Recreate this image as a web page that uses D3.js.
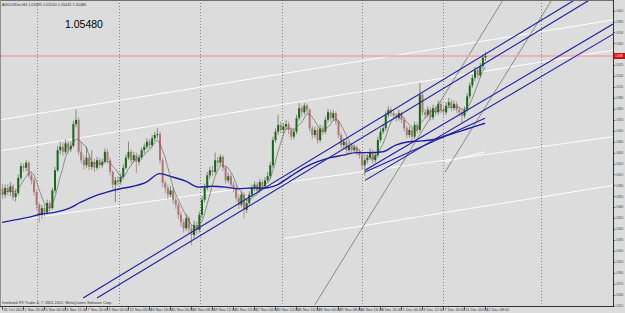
<!DOCTYPE html>
<html>
<head>
<meta charset="utf-8">
<script src="https://cdn.jsdelivr.net/npm/d3@7"></script>
<style>
  body { margin: 0; background: #dcdcdc; }
  svg { display: block; font-family: "Liberation Sans", Arial, sans-serif; }
</style>
</head>
<body>
<svg id="chart" width="625" height="313"></svg>
<script>
// AUDUSDm H4, 4-hour candles from 31 Oct 2012 12:00 (bar 0) to 12 Dec 2012 08:00 (bar 184)
const open = [1.0390,1.0383,1.0391,1.0386,1.0393,1.0380,1.0385,1.0403,1.0417,1.0415,
1.0421,1.0406,1.0400,1.0386,1.0371,1.0359,1.0367,1.0362,1.0373,1.0367,
1.0388,1.0412,1.0436,1.0440,1.0434,1.0444,1.0437,1.0441,1.0467,1.0472,
1.0434,1.0424,1.0418,1.0427,1.0416,1.0422,1.0415,1.0424,1.0418,1.0422,
1.0434,1.0424,1.0410,1.0395,1.0400,1.0398,1.0404,1.0415,1.0427,1.0434,
1.0424,1.0430,1.0422,1.0427,1.0436,1.0440,1.0446,1.0442,1.0450,1.0454,
1.0455,1.0424,1.0397,1.0391,1.0383,1.0388,1.0377,1.0371,1.0359,1.0350,
1.0343,1.0355,1.0343,1.0335,1.0347,1.0341,1.0359,1.0377,1.0391,1.0406,
1.0412,1.0410,1.0424,1.0421,1.0428,1.0415,1.0400,1.0405,1.0395,1.0391,
1.0379,1.0371,1.0383,1.0365,1.0373,1.0383,1.0391,1.0395,1.0388,1.0398,
1.0393,1.0400,1.0405,1.0418,1.0448,1.0458,1.0466,1.0460,1.0464,1.0467,
1.0460,1.0452,1.0458,1.0474,1.0486,1.0481,1.0489,1.0484,1.0462,1.0454,
1.0460,1.0448,1.0462,1.0458,1.0472,1.0481,1.0474,1.0480,1.0470,1.0454,
1.0442,1.0446,1.0436,1.0441,1.0436,1.0439,1.0434,1.0430,1.0418,1.0424,
1.0427,1.0434,1.0424,1.0430,1.0448,1.0458,1.0462,1.0478,1.0484,1.0480,
1.0477,1.0474,1.0480,1.0472,1.0462,1.0454,1.0460,1.0452,1.0466,1.0460,
1.0502,1.0481,1.0478,1.0484,1.0475,1.0486,1.0481,1.0491,1.0484,1.0481,
1.0489,1.0493,1.0486,1.0491,1.0484,1.0481,1.0477,1.0484,1.0500,1.0513,
1.0522,1.0531,1.0525,1.0536,1.0546];

const high = [1.0396,1.0395,1.0396,1.0398,1.0396,1.0390,1.0407,1.0421,1.0420,1.0424,
1.0423,1.0410,1.0403,1.0389,1.0374,1.0371,1.0372,1.0377,1.0376,1.0391,
1.0416,1.0441,1.0446,1.0445,1.0449,1.0447,1.0446,1.0471,1.0484,1.0475,
1.0446,1.0430,1.0440,1.0431,1.0436,1.0426,1.0428,1.0427,1.0426,1.0438,
1.0437,1.0427,1.0412,1.0404,1.0405,1.0408,1.0419,1.0431,1.0446,1.0437,
1.0434,1.0433,1.0431,1.0439,1.0444,1.0450,1.0449,1.0454,1.0458,1.0462,
1.0458,1.0427,1.0400,1.0395,1.0393,1.0391,1.0381,1.0374,1.0363,1.0354,
1.0360,1.0358,1.0347,1.0352,1.0351,1.0363,1.0381,1.0396,1.0410,1.0416,
1.0417,1.0433,1.0428,1.0431,1.0430,1.0418,1.0409,1.0408,1.0399,1.0394,
1.0383,1.0387,1.0386,1.0378,1.0387,1.0395,1.0399,1.0398,1.0402,1.0401,
1.0404,1.0410,1.0422,1.0452,1.0462,1.0478,1.0470,1.0468,1.0472,1.0470,
1.0463,1.0462,1.0478,1.0492,1.0489,1.0492,1.0491,1.0486,1.0465,1.0464,
1.0463,1.0466,1.0465,1.0476,1.0485,1.0484,1.0484,1.0482,1.0472,1.0457,
1.0450,1.0449,1.0445,1.0444,1.0443,1.0442,1.0437,1.0433,1.0428,1.0431,
1.0438,1.0437,1.0434,1.0452,1.0462,1.0467,1.0482,1.0488,1.0487,1.0483,
1.0480,1.0484,1.0482,1.0475,1.0465,1.0464,1.0463,1.0470,1.0469,1.0516,
1.0505,1.0485,1.0488,1.0487,1.0490,1.0489,1.0495,1.0494,1.0488,1.0493,
1.0498,1.0496,1.0495,1.0494,1.0487,1.0485,1.0488,1.0504,1.0517,1.0526,
1.0535,1.0534,1.0540,1.0550,1.0553];

const low = [1.0378,1.0379,1.0382,1.0381,1.0376,1.0375,1.0382,1.0400,1.0410,1.0411,
1.0403,1.0395,1.0382,1.0365,1.0350,1.0355,1.0357,1.0359,1.0363,1.0365,
1.0385,1.0410,1.0431,1.0429,1.0431,1.0432,1.0434,1.0439,1.0463,1.0430,
1.0420,1.0413,1.0415,1.0412,1.0413,1.0410,1.0412,1.0414,1.0415,1.0420,
1.0420,1.0406,1.0390,1.0374,1.0394,1.0395,1.0401,1.0413,1.0424,1.0420,
1.0421,1.0409,1.0418,1.0424,1.0432,1.0437,1.0438,1.0439,1.0447,1.0450,
1.0420,1.0392,1.0385,1.0378,1.0380,1.0372,1.0366,1.0354,1.0345,1.0338,
1.0340,1.0337,1.0323,1.0331,1.0336,1.0338,1.0355,1.0374,1.0388,1.0402,
1.0405,1.0407,1.0416,1.0418,1.0411,1.0396,1.0397,1.0391,1.0386,1.0375,
1.0366,1.0368,1.0355,1.0361,1.0370,1.0380,1.0387,1.0384,1.0385,1.0389,
1.0390,1.0397,1.0402,1.0415,1.0445,1.0454,1.0456,1.0456,1.0460,1.0455,
1.0448,1.0449,1.0455,1.0471,1.0476,1.0478,1.0479,1.0458,1.0449,1.0451,
1.0444,1.0445,1.0454,1.0455,1.0469,1.0470,1.0471,1.0466,1.0450,1.0438,
1.0437,1.0432,1.0432,1.0432,1.0433,1.0430,1.0426,1.0413,1.0406,1.0420,
1.0424,1.0420,1.0421,1.0427,1.0445,1.0455,1.0459,1.0475,1.0476,1.0473,
1.0470,1.0471,1.0468,1.0458,1.0450,1.0451,1.0447,1.0449,1.0456,1.0457,
1.0477,1.0474,1.0475,1.0471,1.0472,1.0477,1.0478,1.0480,1.0477,1.0478,
1.0486,1.0482,1.0483,1.0480,1.0477,1.0468,1.0474,1.0481,1.0497,1.0510,
1.0518,1.0521,1.0522,1.0533,1.0542];

const close = [1.0383,1.0391,1.0386,1.0393,1.0380,1.0385,1.0403,1.0417,1.0415,1.0421,
1.0406,1.0400,1.0386,1.0371,1.0359,1.0367,1.0362,1.0373,1.0367,1.0388,
1.0412,1.0436,1.0440,1.0434,1.0444,1.0437,1.0441,1.0467,1.0472,1.0434,
1.0424,1.0418,1.0427,1.0416,1.0422,1.0415,1.0424,1.0418,1.0422,1.0434,
1.0424,1.0410,1.0395,1.0400,1.0398,1.0404,1.0415,1.0427,1.0434,1.0424,
1.0430,1.0422,1.0427,1.0436,1.0440,1.0446,1.0442,1.0450,1.0454,1.0455,
1.0424,1.0397,1.0391,1.0383,1.0388,1.0377,1.0371,1.0359,1.0350,1.0343,
1.0355,1.0343,1.0335,1.0347,1.0341,1.0359,1.0377,1.0391,1.0406,1.0412,
1.0410,1.0424,1.0421,1.0428,1.0415,1.0400,1.0405,1.0395,1.0391,1.0379,
1.0371,1.0383,1.0365,1.0373,1.0383,1.0391,1.0395,1.0388,1.0398,1.0393,
1.0400,1.0405,1.0418,1.0448,1.0458,1.0466,1.0460,1.0464,1.0467,1.0460,
1.0452,1.0458,1.0474,1.0486,1.0481,1.0489,1.0484,1.0462,1.0454,1.0460,
1.0448,1.0462,1.0458,1.0472,1.0481,1.0474,1.0480,1.0470,1.0454,1.0442,
1.0446,1.0436,1.0441,1.0436,1.0439,1.0434,1.0430,1.0418,1.0424,1.0427,
1.0434,1.0424,1.0430,1.0448,1.0458,1.0462,1.0478,1.0484,1.0480,1.0477,
1.0474,1.0480,1.0472,1.0462,1.0454,1.0460,1.0452,1.0466,1.0460,1.0502,
1.0481,1.0478,1.0484,1.0475,1.0486,1.0481,1.0491,1.0484,1.0481,1.0489,
1.0493,1.0486,1.0491,1.0484,1.0481,1.0477,1.0484,1.0500,1.0513,1.0522,
1.0531,1.0525,1.0536,1.0546,1.0548];

// slow moving average (blue), every 5 bars
const slowMaBars = [0,5,10,15,20,25,30,35,40,45,50,55,60,65,70,75,80,85,90,95,100,105,110,115,120,125,130,135,140,145,150,155,160,165,170,175,180,184];
const slowMa = [1.0350,1.0353,1.0356,1.0360,1.0362,1.0366,1.0374,1.0381,1.0386,1.0390,1.0393,1.0398,1.0408,1.0404,1.0399,1.0392,
1.0393,1.0392,1.0390,1.0391,1.0391,1.0395,1.0405,1.0415,1.0422,1.0427,1.0430,1.0433,1.0433,1.0434,1.0442,1.0446,1.0447,1.0449,
1.0454,1.0459,1.0464,1.0468];
const fastMaPeriod = 6;

// drawn objects: [bar1, price1, bar2, price2]
const channelLines = [
  [30.9, 1.0260, 218.3, 1.0615],
  [36.2, 1.0260, 224.0, 1.0615],
  [138.3, 1.0412, 232.8, 1.0586],
  [138.3, 1.0400, 232.8, 1.0574],
  [138.3, 1.0410, 184.0, 1.0474]
];
const whiteLines = [
  [-0.8, 1.0472, 232.8, 1.0591],
  [-0.8, 1.0435, 232.8, 1.0555],
  [-0.8, 1.0350, 232.8, 1.0452],
  [107.8, 1.0331, 232.8, 1.0394],
  [168.8, 1.0422, 184.0, 1.0434]
];
const greyLines = [
  [119.2, 1.0252, 190.9, 1.0615],
  [168.8, 1.0410, 209.5, 1.0615]
];
const bidPrice = 1.0548;

const priceTicks = [1.0602,1.0589,1.0576,1.0563,1.0550,1.0537,1.0524,1.0511,1.0498,1.0485,1.0472,1.0459,1.0446,1.0433,
1.0420,1.0407,1.0394,1.0381,1.0368,1.0355,1.0342,1.0329,1.0316,1.0303,1.0290,1.0277,1.0264,1.0251];
const timeLabels = ["31 Oct 2012","1 Nov 20:00","5 Nov 04:00","6 Nov 12:00","7 Nov 20:00","9 Nov 04:00","12 Nov 08:00",
"13 Nov 16:00","15 Nov 00:00","16 Nov 08:00","19 Nov 12:00","20 Nov 20:00","22 Nov 04:00","23 Nov 12:00","26 Nov 16:00",
"28 Nov 00:00","29 Nov 08:00","30 Nov 16:00","3 Dec 20:00","5 Dec 04:00","6 Dec 12:00","7 Dec 20:00","11 Dec 00:00","12 Dec 08:00"];
const timeLabelStep = 8;
const weekGridBars = [13.3, 44.6, 75.4, 106.7, 137.1, 168, 205.3];

// Set the dimensions
const plotRight = 613, plotBottom = 306;
const svg = d3.select('#chart');

const x = d3.scaleLinear().domain([0, 184]).range([2, 485]);
const y = d3.scaleLinear().domain([1.0251, 1.0548]).range([305.6, 56]);

svg.append('rect').attr('width', 625).attr('height', 313).attr('fill', '#dcdcdc');

svg.append('clipPath').attr('id', 'plot')
  .append('rect').attr('x', 0).attr('y', 0).attr('width', plotRight).attr('height', plotBottom);

const g = svg.append('g').attr('clip-path', 'url(#plot)');

// period separators
g.selectAll('.sep').data(weekGridBars).enter().append('line')
  .attr('x1', d => Math.round(x(d)) + 0.5).attr('x2', d => Math.round(x(d)) + 0.5)
  .attr('y1', 0).attr('y2', plotBottom)
  .attr('stroke', '#6e6e6e').attr('stroke-width', 0.8).attr('stroke-dasharray', '1,2');

function drawLines(data, color, width) {
  g.selectAll(null).data(data).enter().append('line')
    .attr('x1', d => x(d[0])).attr('y1', d => y(d[1]))
    .attr('x2', d => x(d[2])).attr('y2', d => y(d[3]))
    .attr('stroke', color).attr('stroke-width', width);
}

drawLines(whiteLines, '#ffffff', 1);
drawLines(greyLines, '#505050', 0.6);

// bid line
g.append('line')
  .attr('x1', 0).attr('x2', plotRight)
  .attr('y1', y(bidPrice)).attr('y2', y(bidPrice))
  .attr('stroke', '#e8a8a8').attr('stroke-width', 1.6);

// candles
const idx = d3.range(close.length);
const candles = g.selectAll('.c').data(idx).enter().append('g');
candles.append('line')
  .attr('x1', i => x(i) + 0.5).attr('x2', i => x(i) + 0.5)
  .attr('y1', i => y(high[i])).attr('y2', i => y(low[i]))
  .attr('stroke', i => close[i] >= open[i] ? '#4a6e4a' : '#8f7a7a').attr('stroke-width', 0.7);
candles.append('rect')
  .attr('x', i => x(i) - 0.5).attr('width', 2)
  .attr('y', i => y(Math.max(open[i], close[i])))
  .attr('height', i => Math.max(1, Math.abs(y(open[i]) - y(close[i]))))
  .attr('fill', i => close[i] >= open[i] ? '#156b15' : '#b07474');

// slow MA
g.append('path')
  .datum(slowMaBars.map((b, k) => [b, slowMa[k]]))
  .attr('fill', 'none').attr('stroke', '#1e1ea0').attr('stroke-width', 1.4)
  .attr('d', d3.line().x(d => x(d[0])).y(d => y(d[1])).curve(d3.curveMonotoneX));

// fast MA computed from closes
const fastMa = idx.map(i => d3.mean(close.slice(Math.max(0, i - fastMaPeriod + 1), i + 1)));
g.append('path')
  .datum(fastMa)
  .attr('fill', 'none').attr('stroke', '#555555').attr('stroke-width', 0.6)
  .attr('d', d3.line().x((d, i) => x(i)).y(d => y(d)));

drawLines(channelLines, '#1c1ca8', 1.1);

// big price label
svg.append('text').attr('x', 65).attr('y', 28).attr('font-size', 10.5).attr('fill', '#000')
  .text('1.05480');

svg.append('text').attr('x', 2).attr('y', 6).attr('font-size', 3.8).attr('fill', '#333')
  .text('AUDUSDm,H4  1.05495 1.05510 1.05432 1.05480');
svg.append('text').attr('x', 2).attr('y', 304).attr('font-size', 3.8).attr('fill', '#333')
  .text('Interbank FX Trader 4, © 2001-2012, MetaQuotes Software Corp.');

// frame
svg.append('line').attr('x1', 0).attr('x2', plotRight).attr('y1', 0.5).attr('y2', 0.5).attr('stroke', '#707070');
svg.append('line').attr('x1', 0.5).attr('x2', 0.5).attr('y1', 0).attr('y2', plotBottom).attr('stroke', '#909090');

// price axis (the bid box hides the tick label right under it)
const shownTicks = priceTicks.filter(d => Math.abs(y(d) - y(bidPrice)) > 4);
const yAxis = svg.append('g');
yAxis.append('line').attr('x1', plotRight + 0.5).attr('x2', plotRight + 0.5).attr('y1', 0).attr('y2', plotBottom + 1)
  .attr('stroke', '#333').attr('stroke-width', 1);
yAxis.selectAll('.t').data(priceTicks).enter().append('line')
  .attr('x1', plotRight).attr('x2', plotRight + 2)
  .attr('y1', d => Math.round(y(d)) + 0.5).attr('y2', d => Math.round(y(d)) + 0.5)
  .attr('stroke', '#333').attr('stroke-width', 0.8);
yAxis.selectAll('.l').data(shownTicks).enter().append('text')
  .attr('x', plotRight + 2.5).attr('y', d => y(d) + 1.2)
  .attr('font-size', 3.3).attr('fill', '#333')
  .attr('textLength', 7.6).attr('lengthAdjust', 'spacingAndGlyphs')
  .text(d => d.toFixed(5));
// bid price box
yAxis.append('rect').attr('x', plotRight + 1).attr('y', y(bidPrice) - 3).attr('width', 11).attr('height', 6).attr('fill', '#d01010');
yAxis.append('text').attr('x', plotRight + 2).attr('y', y(bidPrice) + 1.3).attr('font-size', 3.3).attr('fill', '#fff')
  .attr('textLength', 7.8).attr('lengthAdjust', 'spacingAndGlyphs')
  .text(bidPrice.toFixed(5));

// time axis
const xAxis = svg.append('g');
xAxis.append('line').attr('x1', 0).attr('x2', plotRight + 1).attr('y1', plotBottom + 0.5).attr('y2', plotBottom + 0.5)
  .attr('stroke', '#333').attr('stroke-width', 1);
xAxis.selectAll('.t').data(timeLabels).enter().append('line')
  .attr('x1', (d, k) => Math.round(x(k * timeLabelStep)) + 0.5).attr('x2', (d, k) => Math.round(x(k * timeLabelStep)) + 0.5)
  .attr('y1', plotBottom).attr('y2', plotBottom + 4)
  .attr('stroke', '#333').attr('stroke-width', 0.8);
xAxis.selectAll('.l').data(timeLabels).enter().append('text')
  .attr('x', (d, k) => x(k * timeLabelStep) + 1.5).attr('y', plotBottom + 5)
  .attr('font-size', 3.8).attr('fill', '#333')
  .text(d => d);
</script>
</body>
</html>
